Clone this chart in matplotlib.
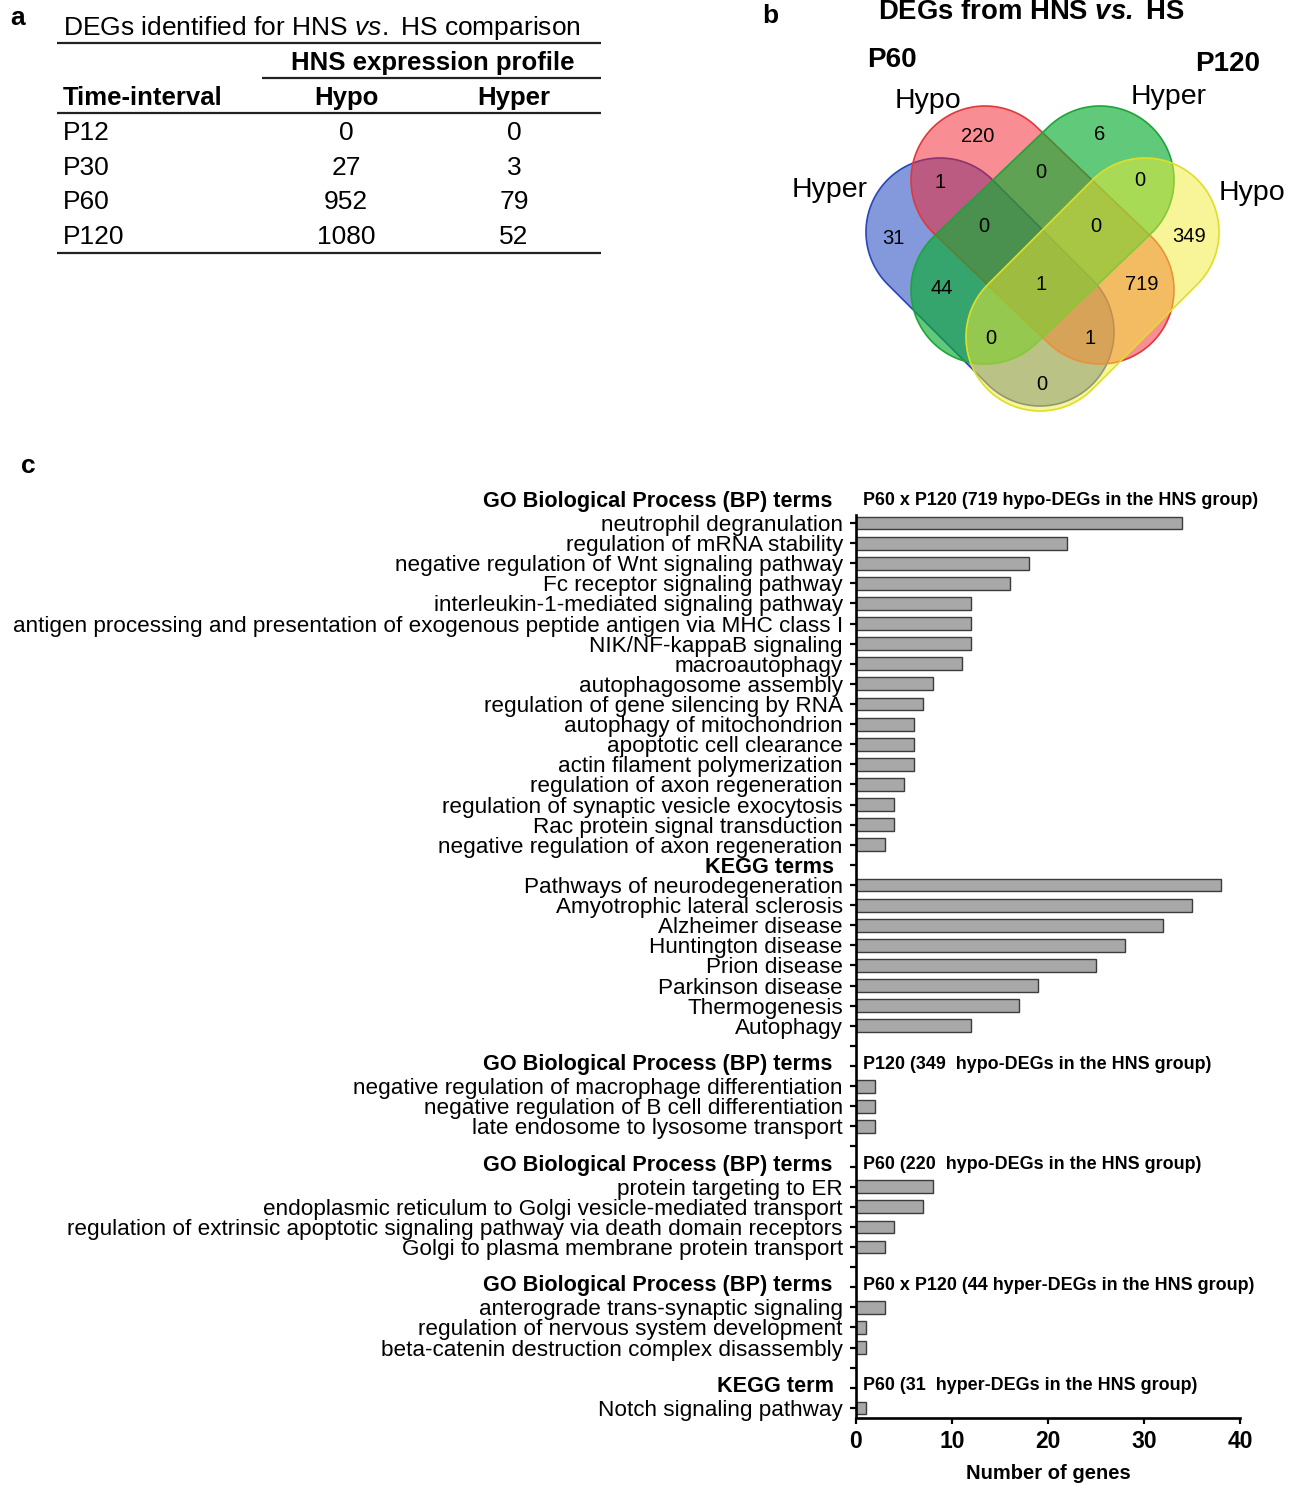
import numpy as np
import matplotlib.pyplot as plt
from matplotlib.patches import Polygon

plt.rcParams['font.family'] = ['Liberation Sans', 'DejaVu Sans']
plt.rcParams['mathtext.fontset'] = 'custom'
plt.rcParams['mathtext.it'] = 'Liberation Sans:italic'
plt.rcParams['mathtext.bfit'] = 'Liberation Sans:italic:bold'
plt.rcParams['mathtext.rm'] = 'Liberation Sans'

# ---- panel a: DEG table ----
time_intervals = ['P12', 'P30', 'P60', 'P120']
hypo_counts = [0, 27, 952, 1080]
hyper_counts = [0, 3, 79, 52]

# ---- panel b: 4-set venn counts (region label order) ----
venn_counts = [220, 6, 1, 0, 0, 31, 0, 0, 349, 44, 1, 719, 0, 1, 0]

# ---- panel c: enrichment terms ----
go1_terms = ['neutrophil degranulation', 'regulation of mRNA stability',
             'negative regulation of Wnt signaling pathway', 'Fc receptor signaling pathway',
             'interleukin-1-mediated signaling pathway',
             'antigen processing and presentation of exogenous peptide antigen via MHC class I',
             'NIK/NF-kappaB signaling', 'macroautophagy', 'autophagosome assembly',
             'regulation of gene silencing by RNA', 'autophagy of mitochondrion',
             'apoptotic cell clearance', 'actin filament polymerization',
             'regulation of axon regeneration', 'regulation of synaptic vesicle exocytosis',
             'Rac protein signal transduction', 'negative regulation of axon regeneration']
go1_vals = [34, 22, 18, 16, 12, 12, 12, 11, 8, 7, 6, 6, 6, 5, 4, 4, 3]

kegg1_terms = ['Pathways of neurodegeneration', 'Amyotrophic lateral sclerosis',
               'Alzheimer disease', 'Huntington disease', 'Prion disease',
               'Parkinson disease', 'Thermogenesis', 'Autophagy']
kegg1_vals = [38, 35, 32, 28, 25, 19, 17, 12]

go2_terms = ['negative regulation of macrophage differentiation',
             'negative regulation of B cell differentiation',
             'late endosome to lysosome transport']
go2_vals = [2, 2, 2]

go3_terms = ['protein targeting to ER',
             'endoplasmic reticulum to Golgi vesicle-mediated transport',
             'regulation of extrinsic apoptotic signaling pathway via death domain receptors',
             'Golgi to plasma membrane protein transport']
go3_vals = [8, 7, 4, 3]

go4_terms = ['anterograde trans-synaptic signaling',
             'regulation of nervous system development',
             'beta-catenin destruction complex disassembly']
go4_vals = [3, 1, 1]

kegg2_terms = ['Notch signaling pathway']
kegg2_vals = [1]

go_head = 'GO Biological Process (BP) terms'
sections = [
    (go_head, 'P60 x P120 (719 hypo-DEGs in the HNS group)', go1_terms, go1_vals, False),
    ('KEGG terms', '', kegg1_terms, kegg1_vals, False),
    (go_head, 'P120 (349  hypo-DEGs in the HNS group)', go2_terms, go2_vals, True),
    (go_head, 'P60 (220  hypo-DEGs in the HNS group)', go3_terms, go3_vals, True),
    (go_head, 'P60 x P120 (44 hyper-DEGs in the HNS group)', go4_terms, go4_vals, True),
    ('KEGG term', 'P60 (31  hyper-DEGs in the HNS group)', kegg2_terms, kegg2_vals, True),
]

W, H = 1303, 1486
fig = plt.figure(figsize=(W / 100, H / 100), dpi=100)

# canvas in pixel coordinates for panels a and b
cv = fig.add_axes([0, 0, 1, 1])
cv.set_xlim(0, W)
cv.set_ylim(H, 0)
cv.axis('off')

# panel letters
cv.text(18, 18, 'a', fontsize=19, fontweight='bold', ha='center', va='center')
cv.text(770, 16, 'b', fontsize=19, fontweight='bold', ha='center', va='center')
cv.text(28, 466, 'c', fontsize=19, fontweight='bold', ha='center', va='center')

# ---- table ----
tfs = 19
cv.text(63, 28, r'DEGs identified for HNS $\mathit{vs.}$ HS comparison', fontsize=tfs, va='center')
for yy, x0 in [(43, 57), (78, 262), (113, 57), (253, 57)]:
    cv.plot([x0, 601], [yy, yy], color='#222222', lw=1.6, solid_capstyle='butt')
cv.text(433, 63, 'HNS expression profile', fontsize=18.5, fontweight='bold', ha='center', va='center')
cv.text(63, 98, 'Time-interval', fontsize=18.5, fontweight='bold', va='center')
cv.text(346, 98, 'Hypo', fontsize=18.5, fontweight='bold', ha='center', va='center')
cv.text(514, 98, 'Hyper', fontsize=18.5, fontweight='bold', ha='center', va='center')
for i, t in enumerate(time_intervals):
    yy = 133 + i * 34.7
    cv.text(63, yy, t, fontsize=tfs, va='center')
    cv.text(346, yy, str(hypo_counts[i]), fontsize=tfs, ha='center', va='center')
    cv.text(514, yy, str(hyper_counts[i]), fontsize=tfs, ha='center', va='center')

# ---- venn ----
def stadium(p1, p2, r, n=80):
    p1 = np.asarray(p1, float)
    p2 = np.asarray(p2, float)
    d = p2 - p1
    a = np.arctan2(d[1], d[0])
    t1 = np.linspace(a + np.pi / 2, a + 3 * np.pi / 2, n)
    t2 = np.linspace(a - np.pi / 2, a + np.pi / 2, n)
    return np.vstack([p1 + r * np.c_[np.cos(t1), np.sin(t1)],
                      p2 + r * np.c_[np.cos(t2), np.sin(t2)]])

venn_sets = [
    # (end1, end2, face, alpha, edge)
    ((940, 232), (1040, 332), (0.12, 0.27, 0.75), 0.55, '#2a46b8'),   # P60 hyper
    ((985, 180), (1100, 290), (0.95, 0.12, 0.16), 0.5, '#e0393c'),    # P60 hypo
    ((1100, 180), (985, 290), (0.05, 0.68, 0.20), 0.65, '#1ea43a'),   # P120 hyper
    ((1145, 232), (1040, 337), (0.95, 0.92, 0.2), 0.5, '#dede2a'),    # P120 hypo
]
for e1, e2, fc, al, ec in venn_sets:
    pts = stadium(e1, e2, 74)
    cv.add_patch(Polygon(pts, closed=True, facecolor=fc + (al,), edgecolor=ec, lw=1.2))

venn_pos = [(978, 137), (1100, 135), (940, 183), (1041, 173), (1140, 180),
            (893, 238), (984, 226), (1096, 227), (1189, 237), (942, 288),
            (1041, 285), (1142, 284), (991, 339), (1090, 338), (1042, 384)]
for (x, y), c in zip(venn_pos, venn_counts):
    cv.text(x, y, str(c), fontsize=14.5, ha='center', va='center')

cv.text(1031, 12, r'DEGs from HNS $\mathbfit{vs.}$ HS', fontsize=19.8, fontweight='bold',
        ha='center', va='center')
cv.text(892, 60, 'P60', fontsize=20, fontweight='bold', ha='center', va='center')
cv.text(1228, 64, 'P120', fontsize=20, fontweight='bold', ha='center', va='center')
cv.text(928, 101, 'Hypo', fontsize=20.5, ha='center', va='center')
cv.text(1169, 97, 'Hyper', fontsize=20.5, ha='center', va='center')
cv.text(830, 190, 'Hyper', fontsize=20.5, ha='center', va='center')
cv.text(1252, 193, 'Hypo', fontsize=20.5, ha='center', va='center')

# ---- panel c bars ----
rows, labels, vals, heads = [], [], [], []
r = 0
for k, (head, note, terms, values, gap) in enumerate(sections):
    if gap:
        r += 1
    if k == 0:
        heads.append((-1, head, note))
    else:
        heads.append((r, head, note))
        r += 1
    for t, v in zip(terms, values):
        rows.append(r)
        labels.append(t)
        vals.append(v)
        r += 1
n_rows = r

ax = fig.add_axes([856 / W, 1 - 1418 / H, 384 / W, (1418 - 515) / H])
ax.barh(rows, vals, height=0.64, color='#a8a8a8', edgecolor='#3c3c3c', lw=1.0)
ax.set_xlim(0, 40)
ax.set_ylim(n_rows - 0.5, -0.4)
tick_labels = [''] * n_rows
for rr, t in zip(rows, labels):
    tick_labels[rr] = t
ax.set_yticks(range(n_rows))
ax.set_yticklabels(tick_labels, fontsize=16.2)
ax.set_xticks([0, 10, 20, 30, 40])
ax.set_xticklabels(['0', '10', '20', '30', '40'], fontsize=16.5, fontweight='bold')
ax.tick_params(axis='both', direction='out', length=4.5, width=1.6, color='black')
ax.tick_params(axis='y', pad=5)
ax.tick_params(axis='x', pad=4)
for s in ['top', 'right']:
    ax.spines[s].set_visible(False)
for s in ['left', 'bottom']:
    ax.spines[s].set_linewidth(1.9)
ax.set_xlabel('Number of genes', fontsize=14.5, fontweight='bold', labelpad=8)

for rr, head, note in heads:
    off = 24 if head.startswith('GO') else 22
    rise = 0 if head == 'KEGG terms' else 4
    ax.annotate(head, xy=(0, rr), xycoords=('axes fraction', 'data'),
                xytext=(-off, rise), textcoords='offset pixels', ha='right',
                va='center_baseline', fontsize=15.6, fontweight='bold', annotation_clip=False)
    if note:
        ax.annotate(note, xy=(0, rr), xycoords=('axes fraction', 'data'),
                    xytext=(7, rise), textcoords='offset pixels', ha='left',
                    va='center_baseline', fontsize=12.9, fontweight='bold', annotation_clip=False)

fig.savefig('out.png', dpi=100)
